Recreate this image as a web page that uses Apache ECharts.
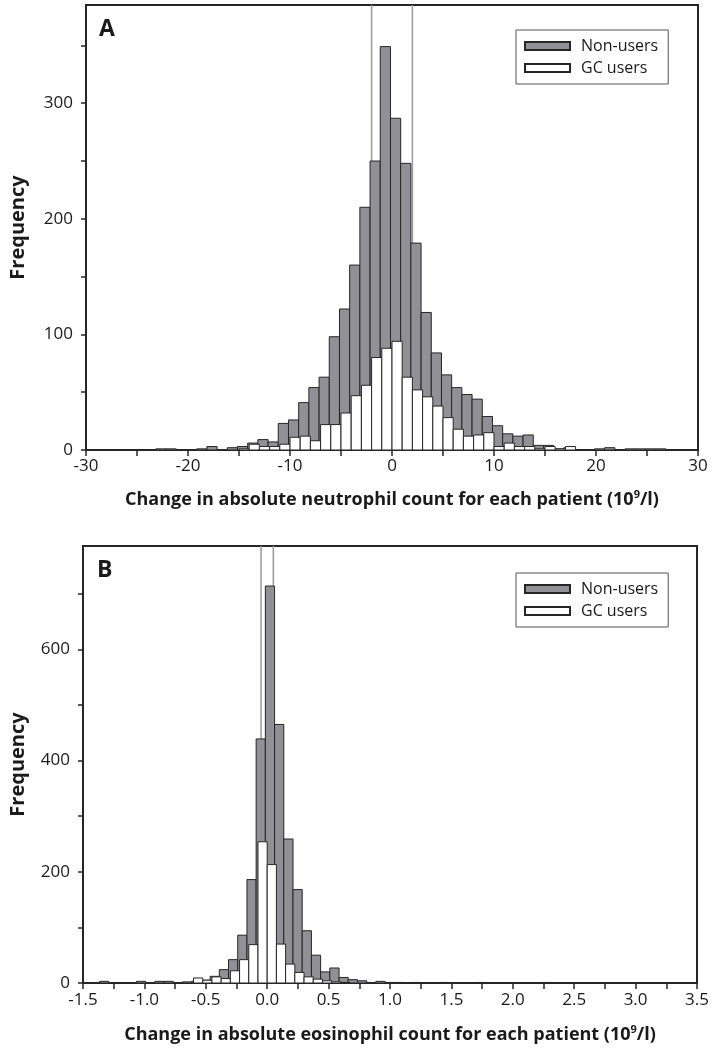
<!DOCTYPE html>
<html><head><meta charset="utf-8">
<script src="https://cdn.jsdelivr.net/npm/echarts@6/dist/echarts.min.js"></script>
<style>html,body{margin:0;padding:0;background:#fff}#c{width:714px;height:1051px}</style>
</head><body><div id="c"></div>
<script>
// ---------- Panel A: neutrophil change (bin width 1) ----------
const binStartA = [-30,-29,-28,-27,-26,-25,-24,-23,-22,-21,-20,-19,-18,-17,-16,-15,-14,-13,-12,-11,-10,-9,-8,-7,-6,-5,-4,-3,-2,-1,0,1,2,3,4,5,6,7,8,9,10,11,12,13,14,15,16,17,18,19,20,21,22,23,24,25,26,27,28,29];
const binWidthA = 1;
const nonUsersBinOffsetA = -0.15;
const nonUsersA = [0,0,0,0,0,0,0,1,1,0,0,1,3,0,2,3,6,9,7,23,26,41,54,63,98,122,160,210,250,349,287,248,179,119,84,65,54,48,44,29,21,14,12,13,4,4,1,2,0,0,1,2,0,1,1,1,1,0,0,0];
const gcUsersA  = [0,0,0,0,0,0,0,0,0,0,0,0,0,0,0,1,5,3,3,5,11,12,8,22,22,32,47,56,80,88,94,63,52,46,38,28,18,12,13,15,3,6,3,3,1,3,1,3,0,0,0,0,0,0,0,0,0,0,0,0];
const guideLinesA = [-2, 2];
const xTicksA = [-30,-20,-10,0,10,20,30];
const yTicksA = [0,100,200,300];

// ---------- Panel B: eosinophil change (bin width 0.075) ----------
const binStartB = [-1.5,-1.425,-1.35,-1.275,-1.2,-1.125,-1.05,-0.975,-0.9,-0.825,-0.75,-0.675,-0.6,-0.525,-0.45,-0.375,-0.3,-0.225,-0.15,-0.075,0,0.075,0.15,0.225,0.3,0.375,0.45,0.525,0.6,0.675,0.75,0.825,0.9,0.975,1.05,1.125,1.2,1.275,1.35,1.425,1.5,1.575,1.65,1.725,1.8,1.875,1.95,2.025,2.1,2.175,2.25,2.325,2.4,2.475,2.55,2.625,2.7,2.775,2.85,2.925,3.0,3.075,3.15,3.225,3.3,3.375];
const binWidthB = 0.075;
const nonUsersBinOffsetB = -0.015;
const nonUsersB = [0,0,3,0,0,0,3,0,3,3,0,2,3,5,12,24,42,86,186,439,714,465,259,168,94,50,20,27,10,6,4,1,3,1,1,0,1,0,0,1,0,0,0,1,0,0,0,0,0,0,1,0,0,0,0,0,0,0,0,0,0,0,0,0,0,0];
const gcUsersB  = [0,0,0,0,0,0,0,0,0,0,0,0,9,5,11,8,22,42,69,254,213,70,34,19,11,7,4,2,1,0,0,0,0,0,0,0,0,0,0,0,0,0,0,0,0,0,0,0,0,0,0,0,0,0,0,0,0,0,0,0,0,0,0,0,0,0];
const guideLinesB = [-0.05, 0.05];
const xTicksB = [-1.5,-1.0,-0.5,0.0,0.5,1.0,1.5,2.0,2.5,3.0,3.5];
const yTicksB = [0,200,400,600];

const seriesNames = ['Non-users', 'GC users'];

// ---------- chart ----------
const FONT = '"Open Sans", "Noto Sans", sans-serif';
const DARK = '#262626';
const TXT = '#1a1a1a';
const GRAY = '#909096';
const Y_MAX_A = 385, Y_MAX_B = 786;

function hist(starts, offset, width, vals) {
  return vals.map((v, i) => [starts[i] + offset, starts[i] + offset + width, v]);
}
function histRender(fill) {
  return function (params, api) {
    const v = api.value(2);
    if (!v) return null;
    const p0 = api.coord([api.value(0), 0]);
    const p1 = api.coord([api.value(1), v]);
    return { type: 'rect',
      shape: { x: p0[0], y: p1[1], width: p1[0] - p0[0], height: p0[1] - p1[1] },
      style: { fill: fill, stroke: DARK, lineWidth: 1 } };
  };
}
function guideRender(ymax) {
  return function (params, api) {
    const a = api.coord([api.value(0), 0]);
    const b = api.coord([api.value(0), ymax]);
    return { type: 'line', shape: { x1: a[0], y1: a[1], x2: b[0], y2: b[1] },
      style: { stroke: '#9a9a9a', lineWidth: 1.5 } };
  };
}
function xTitle(name) {
  return '{a|Change in absolute ' + name + ' count for each patient (10}{s|9}{a|/l)}';
}
const titleRich = {
  a: { fontFamily: FONT, fontSize: 18, fontWeight: 'bold', color: TXT },
  s: { fontFamily: FONT, fontSize: 11, fontWeight: 'bold', color: TXT, padding: [0, 0, 10, 0] }
};
function near(v, list) { return list.some(t => Math.abs(t - v) < 1e-6); }

const axisCommon = {
  axisLine: { show: true, onZero: false, lineStyle: { color: DARK, width: 2 } },
  splitLine: { show: false },
};
const labelFont = { fontFamily: FONT, fontSize: 17, color: TXT };
const yNameStyle = { fontFamily: FONT, fontSize: 20, fontWeight: 'bold', color: TXT };

const option = {
  animation: false,
  backgroundColor: '#fff',
  grid: [
    { left: 86, right: 16, top: 5, height: 445, show: true, borderColor: DARK, borderWidth: 2, backgroundColor: 'transparent' },
    { left: 83, right: 17, top: 546, height: 437, show: true, borderColor: DARK, borderWidth: 2, backgroundColor: 'transparent' }
  ],
  xAxis: [
    Object.assign({}, axisCommon, {
      type: 'value', gridIndex: 0, min: -30, max: 30, interval: 5,
      axisTick: { show: true, length: 6, lineStyle: { color: DARK, width: 1.5 } },
      axisLabel: Object.assign({ margin: 8, formatter: v => near(v, xTicksA) ? String(Math.round(v)) : '' }, labelFont),
      name: xTitle('neutrophil'), nameLocation: 'middle', nameGap: 39,
      nameTextStyle: { rich: titleRich }
    }),
    Object.assign({}, axisCommon, {
      type: 'value', gridIndex: 1, min: -1.5, max: 3.5, interval: 0.25,
      axisTick: { show: true, length: 6, lineStyle: { color: DARK, width: 1.5 } },
      axisLabel: Object.assign({ margin: 9, formatter: v => near(v, xTicksB) ? v.toFixed(1) : '' }, labelFont),
      name: xTitle('eosinophil'), nameLocation: 'middle', nameGap: 41,
      nameTextStyle: { rich: titleRich }
    })
  ],
  yAxis: [
    Object.assign({}, axisCommon, {
      type: 'value', gridIndex: 0, min: 0, max: Y_MAX_A,
      axisTick: { show: true, length: 5, customValues: [0,50,100,150,200,250,300,350], lineStyle: { color: DARK, width: 1.5 } },
      axisLabel: Object.assign({ margin: 13, customValues: yTicksA }, labelFont),
      name: 'Frequency', nameLocation: 'middle', nameGap: 58, nameTextStyle: yNameStyle
    }),
    Object.assign({}, axisCommon, {
      type: 'value', gridIndex: 1, min: 0, max: Y_MAX_B,
      axisTick: { show: true, length: 5, customValues: [0,100,200,300,400,500,600,700], lineStyle: { color: DARK, width: 1.5 } },
      axisLabel: Object.assign({ margin: 13, customValues: yTicksB }, labelFont),
      name: 'Frequency', nameLocation: 'middle', nameGap: 55, nameTextStyle: yNameStyle
    })
  ],
  legend: [0, 1].map(i => ({
    left: 516, top: i === 0 ? 30 : 573, orient: 'vertical',
    itemWidth: 45, itemHeight: 8, itemGap: 6,
    padding: [8, 10, 8, 8], borderColor: '#555', borderWidth: 1,
    backgroundColor: '#fff',
    textStyle: { fontFamily: FONT, fontSize: 16, color: TXT, padding: [0, 0, 0, 6] },
    selectedMode: false,
    data: [{ name: seriesNames[0], icon: 'rect' }, { name: seriesNames[1], icon: 'rect' }]
  })),
  graphic: [
    { type: 'text', left: 99, top: 18, style: { text: 'A', fontFamily: FONT, fontSize: 23, fontWeight: 'bold', fill: TXT } },
    { type: 'text', left: 97, top: 559, style: { text: 'B', fontFamily: FONT, fontSize: 23, fontWeight: 'bold', fill: TXT } }
  ],
  series: [
    { type: 'custom', name: 'guideA', xAxisIndex: 0, yAxisIndex: 0, z: 1, silent: true,
      renderItem: guideRender(Y_MAX_A), data: guideLinesA.map(v => [v]), encode: { x: 0 } },
    { type: 'custom', name: seriesNames[0], xAxisIndex: 0, yAxisIndex: 0, z: 2, clip: true,
      itemStyle: { color: GRAY, borderColor: DARK, borderWidth: 1 },
      renderItem: histRender(GRAY), data: hist(binStartA, nonUsersBinOffsetA, binWidthA, nonUsersA), encode: { x: [0, 1], y: 2 } },
    { type: 'custom', name: seriesNames[1], xAxisIndex: 0, yAxisIndex: 0, z: 3, clip: true,
      itemStyle: { color: '#ffffff', borderColor: DARK, borderWidth: 1 },
      renderItem: histRender('#ffffff'), data: hist(binStartA, 0, binWidthA, gcUsersA), encode: { x: [0, 1], y: 2 } },
    { type: 'custom', name: 'guideB', xAxisIndex: 1, yAxisIndex: 1, z: 1, silent: true,
      renderItem: guideRender(Y_MAX_B), data: guideLinesB.map(v => [v]), encode: { x: 0 } },
    { type: 'custom', name: seriesNames[0], xAxisIndex: 1, yAxisIndex: 1, z: 2, clip: true,
      itemStyle: { color: GRAY, borderColor: DARK, borderWidth: 1 },
      renderItem: histRender(GRAY), data: hist(binStartB, nonUsersBinOffsetB, binWidthB, nonUsersB), encode: { x: [0, 1], y: 2 } },
    { type: 'custom', name: seriesNames[1], xAxisIndex: 1, yAxisIndex: 1, z: 3, clip: true,
      itemStyle: { color: '#ffffff', borderColor: DARK, borderWidth: 1 },
      renderItem: histRender('#ffffff'), data: hist(binStartB, 0, binWidthB, gcUsersB), encode: { x: [0, 1], y: 2 } }
  ]
};
const chart = echarts.init(document.getElementById('c'));
chart.setOption(option);
</script></body></html>
